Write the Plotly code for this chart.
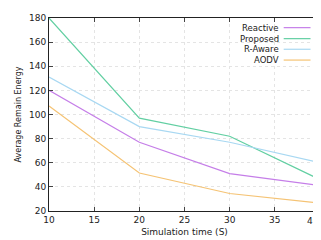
import plotly.graph_objects as go

sim_time = [10, 20, 30, 40]
reactive = [120, 77, 51, 41]
proposed = [180, 97, 82, 46]
r_aware = [131, 90, 77, 60]
aodv = [107, 51.5, 34.5, 26.5]

series_names = ["Reactive", "Proposed", "R-Aware", "AODV"]
series_values = [reactive, proposed, r_aware, aodv]
colors = ["#c57ee8", "#62cfa2", "#a8d8f2", "#f5c374"]

x_ticks = [10, 15, 20, 25, 30, 35, 40]
x_tick_labels = ["10", "15", "20", "25", "30", "35", "40"]
y_ticks = [20, 40, 60, 80, 100, 120, 140, 160, 180]

fig = go.Figure()
for name, vals, c in zip(series_names, series_values, colors):
    fig.add_trace(go.Scatter(x=sim_time, y=vals, mode="lines", name=name,
                             line=dict(color=c, width=1.2), showlegend=False,
                             cliponaxis=False))

font = dict(family="DejaVu Sans", size=9, color="#222")
axis_common = dict(showline=True, mirror="allticks", linecolor="#222", linewidth=1,
                   ticks="inside", ticklen=4, tickcolor="#444",
                   showgrid=True, gridcolor="#e4e4e4", griddash="dot", gridwidth=1,
                   zeroline=False, tickfont=font)

# last x label drawn as annotation so it is not auto-hidden at the edge
shown_labels = x_tick_labels[:-1] + [""]
fig.update_xaxes(range=[9.999, 40.001], tickvals=x_ticks, ticktext=shown_labels, **axis_common,
                 title=dict(text="Simulation time (S)", font=dict(family="DejaVu Sans", size=9, color="#222"), standoff=4))
fig.update_yaxes(range=[19.99, 180.01], tickvals=y_ticks, **axis_common,
                 title=dict(text="Average Remain Energy", font=dict(family="DejaVu Sans", size=8, color="#222"), standoff=6))

annotations = [dict(x=1, y=0, xref="paper", yref="paper", text=x_tick_labels[-1],
                    showarrow=False, xanchor="right", yanchor="top", xshift=1, yshift=-3,
                    font=font)]

# custom legend (text right-aligned, sample line on right)
legend_y = [0.95, 0.893, 0.838, 0.782]
shapes = []
for name, c, ly in zip(series_names, colors, legend_y):
    annotations.append(dict(x=0.855, y=ly, xref="paper", yref="paper", text=name,
                            showarrow=False, xanchor="right", yanchor="middle",
                            font=dict(family="DejaVu Sans", size=8.5, color="#222")))
    shapes.append(dict(type="line", xref="paper", yref="paper", x0=0.866, x1=0.965,
                       y0=ly, y1=ly, line=dict(color=c, width=1.2)))

fig.update_layout(width=321, height=240, margin=dict(l=41, r=9, t=5, b=37),
                  plot_bgcolor="white", paper_bgcolor="white",
                  shapes=shapes, annotations=annotations)

fig.write_html("out.html")
